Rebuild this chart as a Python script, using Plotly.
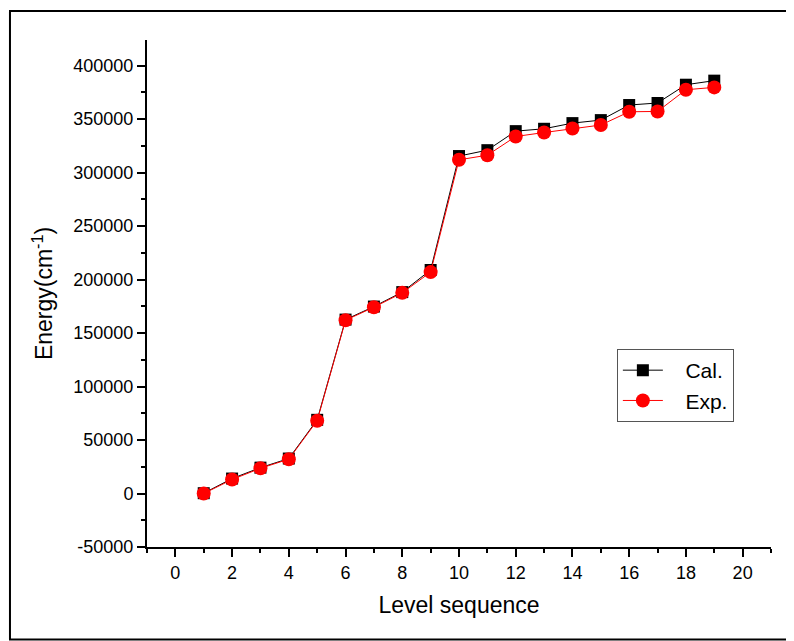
import plotly.graph_objects as go

level = list(range(1, 20))
cal = [300, 14000, 24200, 32700, 68900, 162600, 174800, 188300, 209000, 315500,
       321000, 338800, 341000, 346300, 349100, 363200, 365100, 382200, 386000]
exp = [0, 13100, 23600, 32100, 68100, 162000, 174200, 187600, 207000, 312000,
       316300, 333800, 337500, 341300, 344500, 356900, 357200, 377500, 379700]

x_ticks = list(range(0, 21, 2))
y_ticks = list(range(-50000, 400001, 50000))

FONT = "Liberation Sans, Arial, sans-serif"
PAD = "\u00a0\u00a0\u00a0"

fig = go.Figure()
fig.add_trace(go.Scatter(
    x=level, y=cal, name=PAD + "Cal.", mode="lines+markers",
    line=dict(color="black", width=1),
    marker=dict(symbol="square", size=12, color="black"),
))
fig.add_trace(go.Scatter(
    x=level, y=exp, name=PAD + "Exp.", mode="lines+markers",
    line=dict(color="red", width=1),
    marker=dict(symbol="circle", size=14, color="red"),
))

axis_common = dict(
    showline=True, linecolor="black", linewidth=2, mirror=False,
    ticks="outside", ticklen=8, tickwidth=2, tickcolor="black",
    showgrid=False, zeroline=False,
    tickfont=dict(family=FONT, size=18, color="black"),
)

fig.update_layout(
    width=786, height=633,
    paper_bgcolor="white", plot_bgcolor="white",
    margin=dict(l=139, r=23, t=32, b=94),
    font=dict(family=FONT, color="black"),
    xaxis=dict(
        range=[-1, 21], tickvals=x_ticks,
        minor=dict(ticks="outside", ticklen=4, tickwidth=2, tickcolor="black", dtick=1, tick0=0),
        title=dict(text="Level sequence", font=dict(family=FONT, size=23), standoff=15),
        **axis_common,
    ),
    yaxis=dict(
        range=[-50000, 424000], tickvals=y_ticks,
        ticktext=[str(v) for v in y_ticks],
        minor=dict(ticks="outside", ticklen=4, tickwidth=2, tickcolor="black", dtick=25000, tick0=0),
        title=dict(text="Energy(cm<sup>-1</sup>)", font=dict(family=FONT, size=23), standoff=14),
        **axis_common,
    ),
    legend=dict(
        x=0.753, y=0.3905, xanchor="left", yanchor="top",
        bgcolor="white", bordercolor="#555555", borderwidth=1,
        font=dict(family=FONT, size=21, color="black"),
        itemwidth=40, tracegroupgap=0,
    ),
    shapes=[dict(
        type="rect", xref="paper", yref="paper",
        x0=-0.2196, x1=1.06, y0=-0.1822, y1=1.0572,
        line=dict(color="black", width=2), fillcolor="rgba(0,0,0,0)", layer="below",
    )],
)

fig.write_html("out.html")
